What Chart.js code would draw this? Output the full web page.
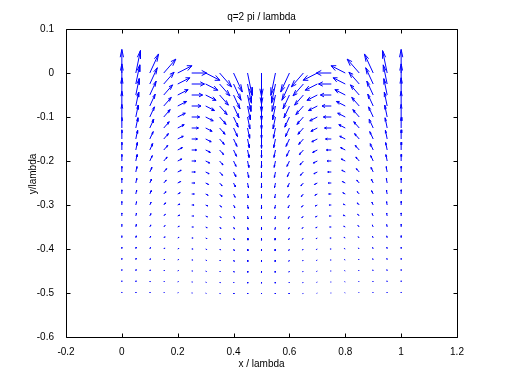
<!DOCTYPE html>
<html><head><meta charset="utf-8">
<script src="https://cdn.jsdelivr.net/npm/chart.js@4"></script>
<style>html,body{margin:0;padding:0;background:#fff;}canvas{display:block;}</style>
</head><body>
<canvas id="c" width="506" height="379"></canvas>
<script>
// Grid positions (in units of lambda)
const xPositions = [0,0.05,0.1,0.15,0.2,0.25,0.3,0.35,0.4,0.45,0.5,0.55,0.6,0.65,0.7,0.75,0.8,0.85,0.9,0.95,1];
const yPositions = [0,-0.025,-0.05,-0.075,-0.1,-0.125,-0.15,-0.175,-0.2,-0.225,-0.25,-0.275,-0.3,-0.325,-0.35,-0.375,-0.4,-0.425,-0.45,-0.475,-0.5];
const xTicks = [-0.2,0,0.2,0.4,0.6,0.8,1,1.2];
const yTicks = [-0.6,-0.5,-0.4,-0.3,-0.2,-0.1,0,0.1];
const titleText = 'q=2 pi / lambda';
const xLabel = 'x / lambda';
const yLabel = 'y/lambda';

// Vector x-components, one row per y position (units of 0.001 lambda)
const uRows = [
[0,16.5,31.5,43.3,50.9,53.5,50.9,43.3,31.5,16.5,0,-16.5,-31.5,-43.3,-50.9,-53.5,-50.9,-43.3,-31.5,-16.5,0],
[0,14.1,26.9,37,43.5,45.7,43.5,37,26.9,14.1,0,-14.1,-26.9,-37,-43.5,-45.7,-43.5,-37,-26.9,-14.1,0],
[0,12.1,23,31.6,37.2,39.1,37.2,31.6,23,12.1,0,-12.1,-23,-31.6,-37.2,-39.1,-37.2,-31.6,-23,-12.1,0],
[0,10.3,19.6,27,31.8,33.4,31.8,27,19.6,10.3,0,-10.3,-19.6,-27,-31.8,-33.4,-31.8,-27,-19.6,-10.3,0],
[0,8.8,16.8,23.1,27.1,28.5,27.1,23.1,16.8,8.8,0,-8.8,-16.8,-23.1,-27.1,-28.5,-27.1,-23.1,-16.8,-8.8,0],
[0,7.5,14.3,19.7,23.2,24.4,23.2,19.7,14.3,7.5,0,-7.5,-14.3,-19.7,-23.2,-24.4,-23.2,-19.7,-14.3,-7.5,0],
[0,6.4,12.3,16.9,19.8,20.9,19.8,16.9,12.3,6.4,0,-6.4,-12.3,-16.9,-19.8,-20.9,-19.8,-16.9,-12.3,-6.4,0],
[0,5.5,10.5,14.4,16.9,17.8,16.9,14.4,10.5,5.5,0,-5.5,-10.5,-14.4,-16.9,-17.8,-16.9,-14.4,-10.5,-5.5,0],
[0,4.7,9,12.3,14.5,15.2,14.5,12.3,9,4.7,0,-4.7,-9,-12.3,-14.5,-15.2,-14.5,-12.3,-9,-4.7,0],
[0,4,7.7,10.5,12.4,13,12.4,10.5,7.7,4,0,-4,-7.7,-10.5,-12.4,-13,-12.4,-10.5,-7.7,-4,0],
[0,3.4,6.5,9,10.6,11.1,10.6,9,6.5,3.4,0,-3.4,-6.5,-9,-10.6,-11.1,-10.6,-9,-6.5,-3.4,0],
[0,2.9,5.6,7.7,9,9.5,9,7.7,5.6,2.9,0,-2.9,-5.6,-7.7,-9,-9.5,-9,-7.7,-5.6,-2.9,0],
[0,2.5,4.8,6.6,7.7,8.1,7.7,6.6,4.8,2.5,0,-2.5,-4.8,-6.6,-7.7,-8.1,-7.7,-6.6,-4.8,-2.5,0],
[0,2.1,4.1,5.6,6.6,6.9,6.6,5.6,4.1,2.1,0,-2.1,-4.1,-5.6,-6.6,-6.9,-6.6,-5.6,-4.1,-2.1,0],
[0,1.8,3.5,4.8,5.6,5.9,5.6,4.8,3.5,1.8,0,-1.8,-3.5,-4.8,-5.6,-5.9,-5.6,-4.8,-3.5,-1.8,0],
[0,1.6,3,4.1,4.8,5.1,4.8,4.1,3,1.6,0,-1.6,-3,-4.1,-4.8,-5.1,-4.8,-4.1,-3,-1.6,0],
[0,1.3,2.5,3.5,4.1,4.3,4.1,3.5,2.5,1.3,0,-1.3,-2.5,-3.5,-4.1,-4.3,-4.1,-3.5,-2.5,-1.3,0],
[0,1.1,2.2,3,3.5,3.7,3.5,3,2.2,1.1,0,-1.1,-2.2,-3,-3.5,-3.7,-3.5,-3,-2.2,-1.1,0],
[0,1,1.9,2.6,3,3.2,3,2.6,1.9,1,0,-1,-1.9,-2.6,-3,-3.2,-3,-2.6,-1.9,-1,0],
[0,0.8,1.6,2.2,2.6,2.7,2.6,2.2,1.6,0.8,0,-0.8,-1.6,-2.2,-2.6,-2.7,-2.6,-2.2,-1.6,-0.8,0],
[0,0.7,1.4,1.9,2.2,2.3,2.2,1.9,1.4,0.7,0,-0.7,-1.4,-1.9,-2.2,-2.3,-2.2,-1.9,-1.4,-0.7,0]
];
// Vector y-components, one row per y position (units of 0.001 lambda)
const vRows = [
[53.5,50.9,43.3,31.5,16.5,0,-16.5,-31.5,-43.3,-50.9,-53.5,-50.9,-43.3,-31.5,-16.5,0,16.5,31.5,43.3,50.9,53.5],
[45.7,43.5,37,26.9,14.1,0,-14.1,-26.9,-37,-43.5,-45.7,-43.5,-37,-26.9,-14.1,0,14.1,26.9,37,43.5,45.7],
[39.1,37.2,31.6,23,12.1,0,-12.1,-23,-31.6,-37.2,-39.1,-37.2,-31.6,-23,-12.1,0,12.1,23,31.6,37.2,39.1],
[33.4,31.8,27,19.6,10.3,0,-10.3,-19.6,-27,-31.8,-33.4,-31.8,-27,-19.6,-10.3,0,10.3,19.6,27,31.8,33.4],
[28.5,27.1,23.1,16.8,8.8,0,-8.8,-16.8,-23.1,-27.1,-28.5,-27.1,-23.1,-16.8,-8.8,0,8.8,16.8,23.1,27.1,28.5],
[24.4,23.2,19.7,14.3,7.5,0,-7.5,-14.3,-19.7,-23.2,-24.4,-23.2,-19.7,-14.3,-7.5,0,7.5,14.3,19.7,23.2,24.4],
[20.9,19.8,16.9,12.3,6.4,0,-6.4,-12.3,-16.9,-19.8,-20.9,-19.8,-16.9,-12.3,-6.4,0,6.4,12.3,16.9,19.8,20.9],
[17.8,16.9,14.4,10.5,5.5,0,-5.5,-10.5,-14.4,-16.9,-17.8,-16.9,-14.4,-10.5,-5.5,0,5.5,10.5,14.4,16.9,17.8],
[15.2,14.5,12.3,9,4.7,0,-4.7,-9,-12.3,-14.5,-15.2,-14.5,-12.3,-9,-4.7,0,4.7,9,12.3,14.5,15.2],
[13,12.4,10.5,7.7,4,0,-4,-7.7,-10.5,-12.4,-13,-12.4,-10.5,-7.7,-4,0,4,7.7,10.5,12.4,13],
[11.1,10.6,9,6.5,3.4,0,-3.4,-6.5,-9,-10.6,-11.1,-10.6,-9,-6.5,-3.4,0,3.4,6.5,9,10.6,11.1],
[9.5,9,7.7,5.6,2.9,0,-2.9,-5.6,-7.7,-9,-9.5,-9,-7.7,-5.6,-2.9,0,2.9,5.6,7.7,9,9.5],
[8.1,7.7,6.6,4.8,2.5,0,-2.5,-4.8,-6.6,-7.7,-8.1,-7.7,-6.6,-4.8,-2.5,0,2.5,4.8,6.6,7.7,8.1],
[6.9,6.6,5.6,4.1,2.1,0,-2.1,-4.1,-5.6,-6.6,-6.9,-6.6,-5.6,-4.1,-2.1,0,2.1,4.1,5.6,6.6,6.9],
[5.9,5.6,4.8,3.5,1.8,0,-1.8,-3.5,-4.8,-5.6,-5.9,-5.6,-4.8,-3.5,-1.8,0,1.8,3.5,4.8,5.6,5.9],
[5.1,4.8,4.1,3,1.6,0,-1.6,-3,-4.1,-4.8,-5.1,-4.8,-4.1,-3,-1.6,0,1.6,3,4.1,4.8,5.1],
[4.3,4.1,3.5,2.5,1.3,0,-1.3,-2.5,-3.5,-4.1,-4.3,-4.1,-3.5,-2.5,-1.3,0,1.3,2.5,3.5,4.1,4.3],
[3.7,3.5,3,2.2,1.1,0,-1.1,-2.2,-3,-3.5,-3.7,-3.5,-3,-2.2,-1.1,0,1.1,2.2,3,3.5,3.7],
[3.2,3,2.6,1.9,1,0,-1,-1.9,-2.6,-3,-3.2,-3,-2.6,-1.9,-1,0,1,1.9,2.6,3,3.2],
[2.7,2.6,2.2,1.6,0.8,0,-0.8,-1.6,-2.2,-2.6,-2.7,-2.6,-2.2,-1.6,-0.8,0,0.8,1.6,2.2,2.6,2.7],
[2.3,2.2,1.9,1.4,0.7,0,-0.7,-1.4,-1.9,-2.2,-2.3,-2.2,-1.9,-1.4,-0.7,0,0.7,1.4,1.9,2.2,2.3]
];

// Build quiver arrows (shaft + two head strokes) as broken line segments in data coordinates
const ALPHA = 0.33, BETA = 0.33;
const GAP = {x: NaN, y: NaN};
const arrowPts = [];
for (let j = 0; j < yPositions.length; j++) {
  for (let i = 0; i < xPositions.length; i++) {
    const x = xPositions[i], y = yPositions[j];
    const u = uRows[j][i] / 1000, v = vRows[j][i] / 1000;
    const tip = {x: x + u, y: y + v};
    arrowPts.push({x: x, y: y}, tip, GAP);
    arrowPts.push(
      {x: x + u - ALPHA * (u + BETA * v), y: y + v - ALPHA * (v - BETA * u)},
      tip,
      {x: x + u - ALPHA * (u - BETA * v), y: y + v - ALPHA * (v + BETA * u)},
      GAP
    );
  }
}

const FONT = {family: '"Liberation Sans", Arial, Helvetica, sans-serif', size: 10, weight: 'normal'};
const FONT_CSS = 'normal 10px "Liberation Sans", Arial, Helvetica, sans-serif';
const fmt = v => String(Math.round(v * 10) / 10);

const boxPlugin = {
  id: 'matlabBox',
  afterDraw(chart) {
    const {ctx, chartArea: {left, right, top, bottom}, scales: {x, y}} = chart;
    ctx.save();
    ctx.strokeStyle = '#000';
    ctx.lineWidth = 1;
    ctx.beginPath();
    const L = left + 0.5, R = right + 0.5, T = top + 0.5, B = bottom + 0.5;
    ctx.rect(L, T, R - L, B - T);
    const tl = 4;
    xTicks.forEach(v => {
      const px = Math.round(x.getPixelForValue(v)) + 0.5;
      ctx.moveTo(px, B); ctx.lineTo(px, B - tl);
      ctx.moveTo(px, T); ctx.lineTo(px, T + tl);
    });
    yTicks.forEach(v => {
      const py = Math.round(y.getPixelForValue(v)) + 0.5;
      ctx.moveTo(L, py); ctx.lineTo(L + tl, py);
      ctx.moveTo(R, py); ctx.lineTo(R - tl, py);
    });
    ctx.stroke();
    // y-axis label (rotated), placed slightly above the axis centre as in the original
    ctx.fillStyle = '#000';
    ctx.font = FONT_CSS;
    ctx.textAlign = 'center';
    ctx.textBaseline = 'middle';
    ctx.translate(33, (top + bottom) / 2 - 9);
    ctx.rotate(-Math.PI / 2);
    ctx.fillText(yLabel, 0, 0);
    ctx.restore();
  }
};

new Chart(document.getElementById('c'), {
  type: 'scatter',
  data: {
    datasets: [{
      data: arrowPts,
      showLine: true,
      spanGaps: false,
      borderColor: '#0000ff',
      borderWidth: 1,
      pointRadius: 0,
      pointHoverRadius: 0,
      fill: false,
      tension: 0
    }]
  },
  options: {
    responsive: false,
    animation: false,
    devicePixelRatio: 1,
    events: [],
    layout: {padding: {left: 0, right: 49, top: 0, bottom: 0}},
    plugins: {
      legend: {display: false},
      tooltip: {enabled: false},
      title: {
        display: true, text: titleText, fullSize: false, color: '#000',
        font: FONT, padding: {top: 11, bottom: 6}
      }
    },
    scales: {
      x: {
        type: 'linear', min: -0.2, max: 1.2,
        afterBuildTicks: s => { s.ticks = xTicks.map(v => ({value: v})); },
        grid: {display: false}, border: {display: false},
        ticks: {color: '#000', font: FONT, padding: 1, maxRotation: 0, autoSkip: false, callback: v => fmt(v)},
        title: {display: true, text: xLabel, color: '#000', font: FONT, padding: {top: 0, bottom: 9}},
        afterFit: s => { s.height = 42; }
      },
      y: {
        type: 'linear', min: -0.6, max: 0.1,
        afterBuildTicks: s => { s.ticks = yTicks.map(v => ({value: v})); },
        grid: {display: false}, border: {display: false},
        ticks: {color: '#000', font: FONT, padding: 4, autoSkip: false, callback: v => fmt(v)},
        afterFit: s => { s.width = 66; }
      }
    }
  },
  plugins: [boxPlugin]
});
</script>
</body></html>
